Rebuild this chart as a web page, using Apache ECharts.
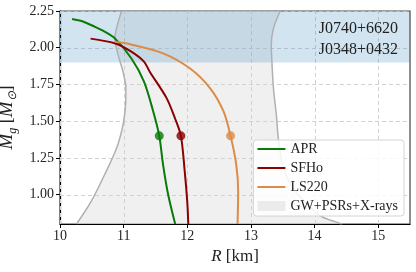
<!DOCTYPE html>
<html><head><meta charset="utf-8">
<script src="https://cdn.jsdelivr.net/npm/echarts@6/dist/echarts.min.js"></script>
<style>html,body{margin:0;padding:0;background:#fff}#c{width:416px;height:272px}</style>
</head><body><div id="c"></div>
<script>
// ---- data ----
const aprR  = [10.19, 10.35, 10.546, 10.70, 10.86, 11.12, 11.32, 11.465, 11.56, 11.62, 11.70, 11.81];
const aprM  = [2.196, 2.180, 2.143, 2.110, 2.064, 1.928, 1.770, 1.566, 1.400, 1.203, 0.999, 0.800];
const sfhoR = [10.48, 10.86, 11.12, 11.32, 11.41, 11.675, 11.806, 11.90, 11.96, 12.00, 12.016];
const sfhoM = [2.062, 2.030, 1.973, 1.905, 1.837, 1.657, 1.520, 1.400, 1.158, 0.950, 0.800];
const ls220R = [10.86, 11.10, 11.62, 12.04, 12.36, 12.57, 12.68, 12.77, 12.80, 12.79];
const ls220M = [2.040, 2.024, 1.962, 1.860, 1.724, 1.566, 1.400, 1.203, 1.022, 0.800];
const dotR = [11.56, 11.90, 12.68];
const dotM = [1.4, 1.4, 1.4];
const leftBoundR = [10.26, 10.49, 10.70, 10.89, 10.99, 11.03, 11.035, 10.99, 10.913, 10.861, 10.888, 10.967];
const leftBoundM = [0.800, 0.954, 1.135, 1.317, 1.475, 1.611, 1.724, 1.837, 1.951, 2.064, 2.132, 2.250];
const rightBoundR = [13.46, 13.354, 13.32, 13.33, 13.354, 13.40, 13.43, 13.50, 13.65, 13.85, 14.09, 14.38, 14.43];
const rightBoundM = [2.250, 2.132, 2.019, 1.905, 1.724, 1.543, 1.385, 1.200, 1.050, 0.950, 0.856, 0.807, 0.800];
const bandM = [1.9, 2.25];
const xRange = [10, 15.5];
const yRange = [0.8, 2.25];
const xTicks = [10, 11, 12, 13, 14, 15];
const yTicks = [1.00, 1.25, 1.50, 1.75, 2.00, 2.25];
const pulsars = ['J0740+6620', 'J0348+0432'];
const names = ['APR', 'SFHo', 'LS220', 'GW+PSRs+X-rays'];
const colors = ['#0a7a0a', '#8b0000', '#dc8c45'];

// ---- chart ----
const FONT = 'Liberation Serif';
const zip = (a, b) => a.map((v, i) => [v, b[i]]);
const chart = echarts.init(document.getElementById('c'), null, {renderer: 'canvas'});
const lineIcon = 'path://M0,0M0,4L28,4L28,6L0,6ZM28,10';
const crisp = v => Math.round(v) + 0.5;

const series = [
  {
    name: names[3], type: 'custom', clip: true, z: 1,
    data: [0],
    itemStyle: {color: '#ebebeb'},
    renderItem: function (params, api) {
      const left = leftBoundR.map((r, i) => api.coord([r, leftBoundM[i]]));
      const right = rightBoundR.map((r, i) => api.coord([r, rightBoundM[i]]));
      return {type: 'polygon', shape: {points: left.concat(right)}, style: {fill: 'rgba(225,225,225,0.5)'}};
    }
  },
  {
    name: 'grid-lines', type: 'custom', clip: true, z: 2, silent: true,
    data: [0],
    renderItem: function (params, api) {
      const children = [];
      const ls = {stroke: '#d2d2d2', lineWidth: 1, lineDash: [4, 3]};
      xTicks.forEach(t => {
        const a = api.coord([t, yRange[0]]), b = api.coord([t, yRange[1]]);
        children.push({type: 'line', shape: {x1: crisp(a[0]), y1: a[1], x2: crisp(b[0]), y2: b[1]}, style: ls});
      });
      yTicks.forEach(t => {
        const a = api.coord([xRange[0], t]), b = api.coord([xRange[1], t]);
        children.push({type: 'line', shape: {x1: a[0], y1: crisp(a[1]), x2: b[0], y2: crisp(b[1])}, style: ls});
      });
      return {type: 'group', children: children};
    }
  },
  {
    name: 'band', type: 'custom', clip: true, z: 3, silent: true,
    data: [0],
    renderItem: function (params, api) {
      const p0 = api.coord([xRange[0], bandM[1]]);
      const p1 = api.coord([xRange[1], bandM[0]]);
      return {type: 'rect', shape: {x: p0[0], y: p0[1], width: p1[0] - p0[0], height: p1[1] - p0[1]},
        style: {fill: 'rgba(31,119,180,0.2)'}};
    }
  },
  {
    name: 'bound-left', type: 'line', data: zip(leftBoundR, leftBoundM), showSymbol: false, smooth: 0.3,
    lineStyle: {color: '#b0b0b0', width: 1.5}, z: 4, silent: true, clip: true
  },
  {
    name: 'bound-right', type: 'line', data: zip(rightBoundR, rightBoundM), showSymbol: false, smooth: 0.3,
    lineStyle: {color: '#b0b0b0', width: 1.5}, z: 4, silent: true, clip: true
  },
  {name: names[0], type: 'line', data: zip(aprR, aprM), showSymbol: false, smooth: 0.3,
    lineStyle: {color: colors[0], width: 2}, itemStyle: {color: colors[0]}, z: 5, clip: true},
  {name: names[1], type: 'line', data: zip(sfhoR, sfhoM), showSymbol: false, smooth: 0.3,
    lineStyle: {color: colors[1], width: 2}, itemStyle: {color: colors[1]}, z: 5, clip: true},
  {name: names[2], type: 'line', data: zip(ls220R, ls220M), showSymbol: false, smooth: 0.3,
    lineStyle: {color: colors[2], width: 2}, itemStyle: {color: colors[2]}, z: 5, clip: true},
  {name: 'dots', type: 'scatter', symbolSize: 9, z: 6,
    data: dotR.map((r, i) => ({value: [r, dotM[i]], itemStyle: {color: colors[i]}}))}
];

chart.setOption({
  animation: false,
  grid: {left: 60, right: 6, top: 11, bottom: 48, outerBoundsMode: 'none', containLabel: false,
    show: true, borderColor: '#444', borderWidth: 1.2, backgroundColor: 'transparent'},
  xAxis: {
    type: 'value', min: xRange[0], max: xRange[1],
    axisLine: {show: true, onZero: false, lineStyle: {color: '#000', width: 1.2}},
    axisTick: {show: true, length: 4, customValues: xTicks, lineStyle: {color: '#000', width: 1}},
    axisLabel: {customValues: xTicks, margin: 5, fontFamily: FONT, fontSize: 14, color: '#262626', formatter: v => String(v)},
    splitLine: {show: false},
    name: '{i|R} [km]', nameLocation: 'middle', nameGap: 22,
    nameTextStyle: {fontFamily: FONT, fontSize: 17, color: '#222', rich: {i: {fontFamily: FONT, fontStyle: 'italic', fontSize: 17, color: '#222'}}}
  },
  yAxis: {
    type: 'value', min: yRange[0], max: yRange[1],
    axisLine: {show: true, onZero: false, lineStyle: {color: '#000', width: 1.2}},
    axisTick: {show: true, length: 4, customValues: yTicks, lineStyle: {color: '#000', width: 1}},
    axisLabel: {customValues: yTicks, margin: 6, fontFamily: FONT, fontSize: 14, color: '#262626', formatter: v => v.toFixed(2)},
    splitLine: {show: false},
    name: '{i|M}{s|g} [{i|M}{s|⊙}]', nameLocation: 'middle', nameGap: 34, nameRotate: 90,
    nameTextStyle: {fontFamily: FONT, fontSize: 18, color: '#222', lineHeight: 24,
      rich: {
        i: {fontFamily: FONT, fontStyle: 'italic', fontSize: 19, lineHeight: 24, color: '#222'},
        s: {fontFamily: FONT, fontStyle: 'italic', fontSize: 12, lineHeight: 12, verticalAlign: 'bottom', color: '#222'}
      }}
  },
  legend: {
    data: [
      {name: names[0], icon: lineIcon},
      {name: names[1], icon: lineIcon},
      {name: names[2], icon: lineIcon},
      {name: names[3], icon: 'rect', itemStyle: {color: '#ebebeb'}}
    ],
    orient: 'vertical', right: 12, top: 140, z: 20,
    backgroundColor: 'rgba(255,255,255,0.85)', borderColor: '#d4d4d4', borderWidth: 1, borderRadius: 3,
    padding: [2, 6, 3, 4], itemWidth: 28, itemHeight: 10, itemGap: 5,
    itemStyle: {borderWidth: 0},
    textStyle: {fontFamily: FONT, fontSize: 14, color: '#222', lineHeight: 14},
    selectedMode: false
  },
  graphic: [{
    type: 'text', right: 18, top: 18, z: 10,
    style: {text: pulsars.join('\n'), fontFamily: FONT, fontSize: 16, lineHeight: 21.5, fill: '#222', textAlign: 'right'}
  }],
  series: series
});
</script></body></html>
